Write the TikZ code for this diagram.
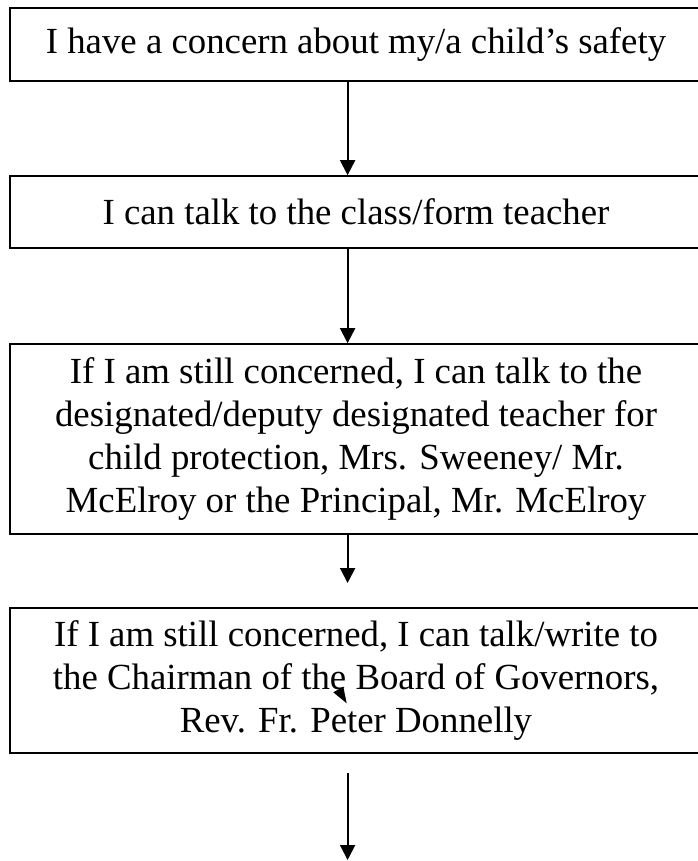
\documentclass[tikz,border=0pt]{standalone}
\usepackage{fontspec}
\setmainfont{Liberation Serif}
\usetikzlibrary{
	arrows.meta,
	calc,
	positioning,
}
\tikzset{step box/.style={
	draw,
	rectangle,
	line width=0.8pt,
	inner sep=0pt,
	minimum width=345.75pt,
	align=center,
	font=\fontsize{18.4}{21.35}\selectfont,
	black,
},
flow arrow/.style={
	-{Triangle[length=7.5pt,width=7.5pt]},
	line width=1pt,
}}

\begin{document}
\begin{tikzpicture}[x=0.5pt,y=-0.5pt]
\useasboundingbox (0,0) rectangle (697,861);

\node[step box,minimum height=36.5pt](concern) at(356,44.5) {I have a concern about my/a child’s safety};
\node[step box,minimum height=36pt](teacher) at(356,212) {I can talk to the class/form teacher};
\node[step box,minimum height=95pt](designated) at(356,439) {If I am still concerned, I can talk to the\\
	designated/deputy designated teacher for\\
	child protection, Mrs. Sweeney/ Mr.\\
	McElroy or the Principal, Mr. McElroy};
\node[step box,minimum height=72.5pt](chairman) at(356,680.5) {If I am still concerned, I can talk/write to\\
	the Chairman of the Board of Governors,\\
	Rev. Fr. Peter Donnelly};

\coordinate(axis) at(347.6,0);
\coordinate(gap end) at(347.6,583);
\coordinate(tail) at(347.6,773);
\coordinate(head) at(347.6,860);

\foreach \u \v in {
	concern/teacher%
	,teacher/designated%
}{
	\draw[flow arrow] (\u.south -| axis) -- (\v.north -| axis);
}
\draw[flow arrow] (designated.south -| axis) -- (gap end);
\draw[flow arrow] (tail) -- (head);

% stray tip inside the last box
\fill (333.3,692.3) -- (343.3,686.7) -- (346.7,703.3) -- cycle;
\end{tikzpicture}
\end{document}
